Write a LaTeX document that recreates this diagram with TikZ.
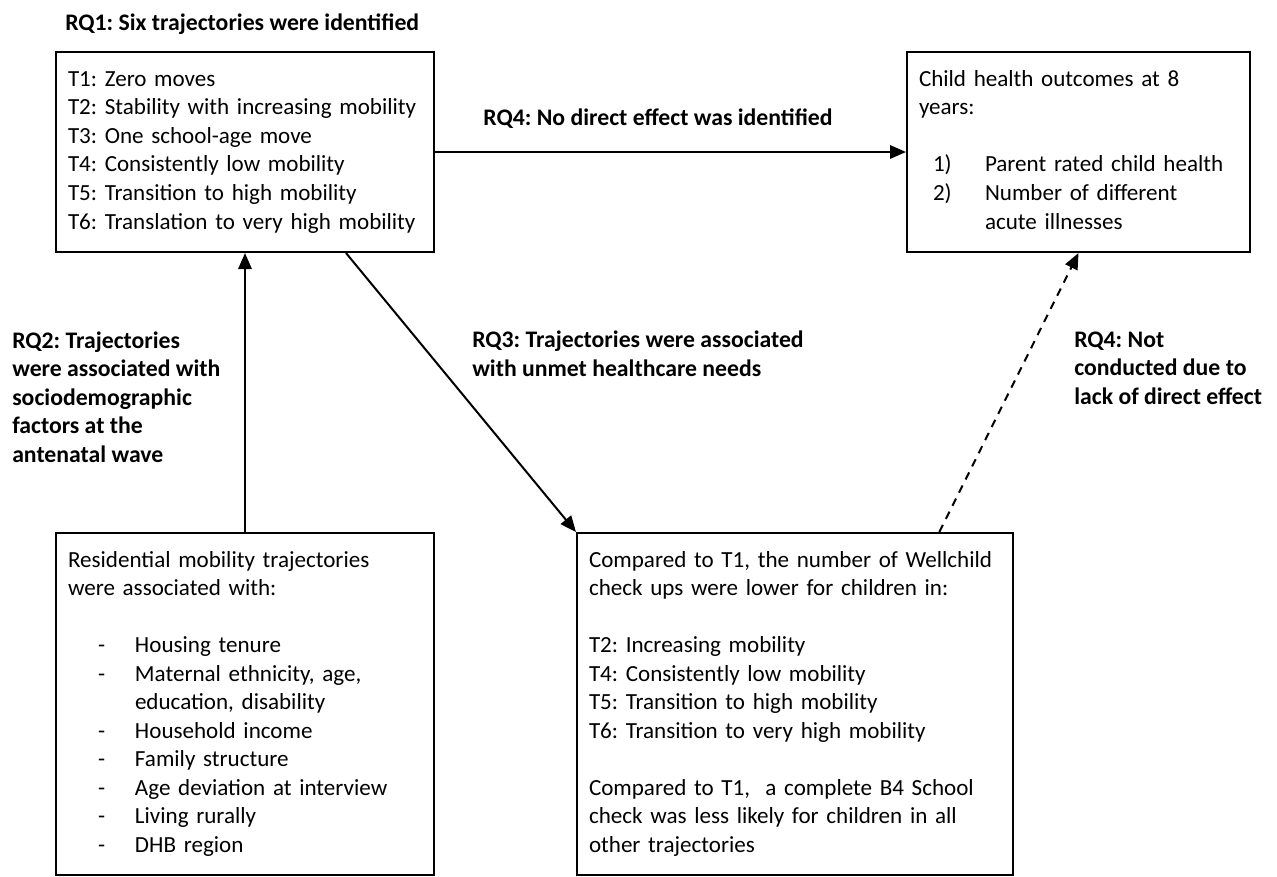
\documentclass[tikz,border=0pt]{standalone}
\usepackage{fontspec}
\setmainfont{Carlito}
\usetikzlibrary{arrows.meta}
\newcommand{\listnum}[1]{\hspace*{10.5pt}\makebox[39pt][l]{#1}}
\newcommand{\listdash}{\hspace*{22.5pt}\makebox[27.75pt][l]{-}}
\newcommand{\boxlines}[1]{\begin{tabular}{@{}l@{}}#1\end{tabular}}

\begin{document}
\begin{tikzpicture}[x=0.75pt, y=-0.75pt,
        box/.style={draw, line width=1.5pt, anchor=north west,
            inner xsep=9pt, inner ysep=0pt,
            font=\fontsize{17.3}{21.4}\selectfont\frenchspacing},
        rq/.style={anchor=west, align=left, inner sep=0pt,
            font=\fontsize{17.8}{21.4}\selectfont\bfseries\frenchspacing},
        link/.style={line width=1.5pt, -{Triangle[length=12pt, width=10pt]}}]
        \useasboundingbox (0,0) rectangle (1277,876);
        \node[box, text width=265.5pt, minimum height=150pt] (traj) at (55,51)
            {\boxlines{T1: Zero moves\\
             T2: Stability with increasing mobility\\
             T3: One school-age move\\
             T4: Consistently low mobility\\
             T5: Transition to high mobility\\
             T6: Translation to very high mobility}};
        \node[box, text width=239.25pt, minimum height=150pt] (outc) at (906,51)
            {\boxlines{Child health outcomes at 8\\
             years:\\[21.4pt]
             \listnum{1)}Parent rated child health\\
             \listnum{2)}Number of different\\
             \hspace*{49.5pt}acute illnesses}};
        \node[box, text width=265.5pt, minimum height=256.5pt] (resid) at (55,532)
            {\boxlines{Residential mobility trajectories\\
             were associated with:\\[21.4pt]
             \listdash Housing tenure\\
             \listdash Maternal ethnicity, age,\\
             \hspace*{50.25pt}education, disability\\
             \listdash Household income\\
             \listdash Family structure\\
             \listdash Age deviation at interview\\
             \listdash Living rurally\\
             \listdash DHB region}};
        \node[box, text width=309pt, minimum height=256.5pt] (wellc) at (576,532)
            {\boxlines{Compared to T1, the number of Wellchild\\
             check ups were lower for children in:\\[21.4pt]
             T2: Increasing mobility\\
             T4: Consistently low mobility\\
             T5: Transition to high mobility\\
             T6: Transition to very high mobility\\[21.4pt]
             Compared to T1,\ \ a complete B4 School\\
             check was less likely for children in all\\
             other trajectories}};
        \node[rq] (rq1) at (65,24) {RQ1: Six trajectories were identified};
        \node[rq, anchor=center] (rq4a) at (658,119) {RQ4: No direct effect was identified};
        \node[rq] (rq2) at (12,397)
            {RQ2: Trajectories\\were associated with\\sociodemographic\\factors at the\\antenatal wave};
        \node[rq] (rq3) at (472,354) {RQ3: Trajectories were associated\\with unmet healthcare needs};
        \node[rq] (rq4b) at (1074,368) {RQ4: Not\\conducted due to\\lack of direct effect};
        \draw[link] (traj.east) -- (outc.west);
        \draw[link] (resid.north) -- (traj.south);
        \draw[link] (traj.-45.5) -- (wellc.north west);
        \draw[link, dash pattern=on 6pt off 5pt] (wellc.50.3) -- (outc.south);
    \end{tikzpicture}
\end{document}
